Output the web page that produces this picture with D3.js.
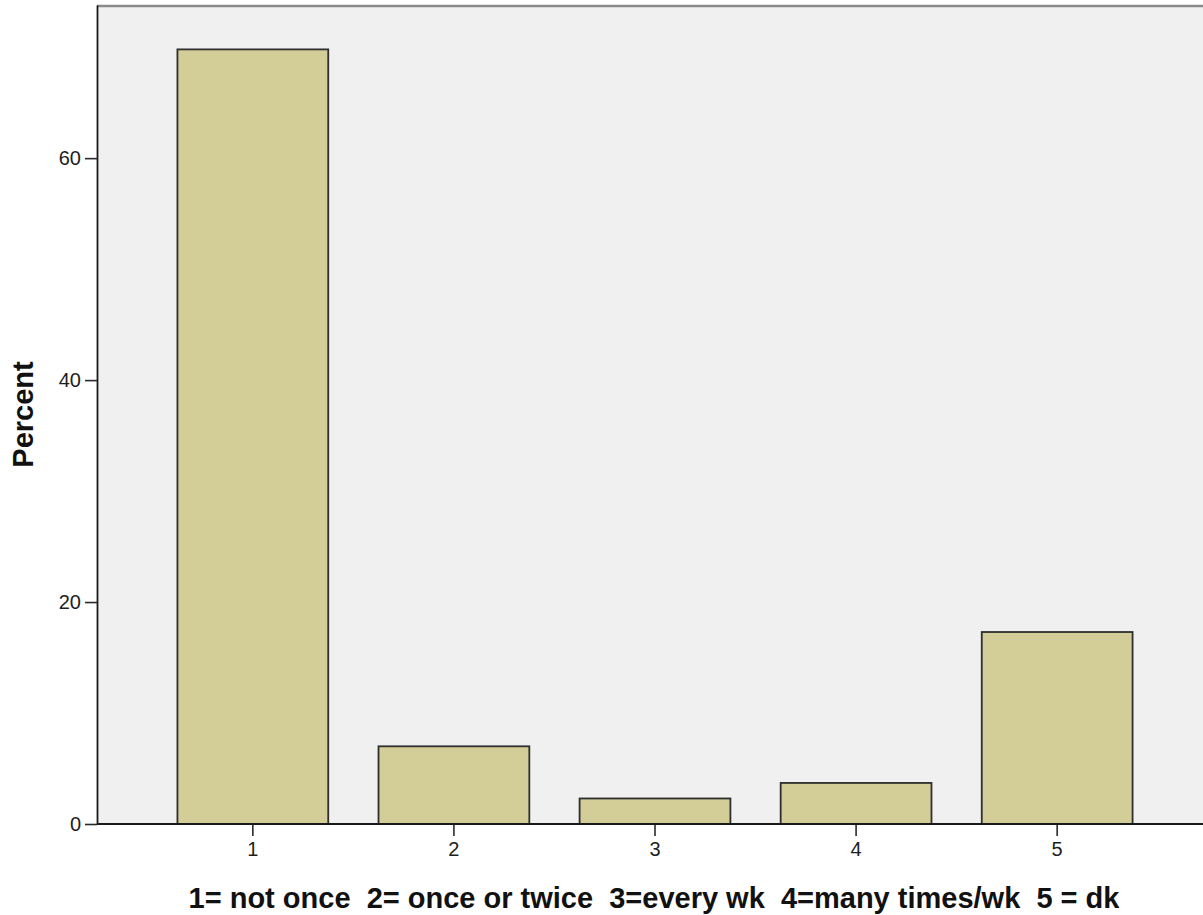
<!DOCTYPE html>
<html>
<head>
<meta charset="utf-8">
<script src="https://cdn.jsdelivr.net/npm/d3@7"></script>
<style>
  html, body { margin: 0; padding: 0; background: #ffffff; }
  svg { display: block; }
  text { font-family: Arial, "Liberation Sans", sans-serif; }
</style>
</head>
<body>
<svg id="chart" width="1203" height="915"></svg>
<script>
// ---- data ----
const categories = ["1", "2", "3", "4", "5"];
const percentValues = [69.8, 7.0, 2.3, 3.7, 17.3];
const yTickValues = [0, 20, 40, 60];
const yAxisTitle = "Percent";
const xAxisTitle = "1= not once  2= once or twice  3=every wk  4=many times/wk  5 = dk";

// ---- layout ----
const W = 1203, H = 915;
const plotLeft = 97, plotRight = 1213, plotTop = 5, plotBottom = 824;

const svg = d3.select("#chart");

const x = d3.scaleBand()
  .domain(categories)
  .range([plotLeft, plotRight])
  .paddingInner(0.25)
  .paddingOuter(0.4);

const y = d3.scaleLinear()
  .domain([0, 73.8])
  .range([plotBottom, plotTop]);

// plot background
svg.append("rect")
  .attr("x", plotLeft)
  .attr("y", plotTop)
  .attr("width", plotRight - plotLeft)
  .attr("height", plotBottom - plotTop)
  .attr("fill", "#f0f0f0");

// top frame line
svg.append("line")
  .attr("x1", plotLeft).attr("x2", W)
  .attr("y1", plotTop + 1).attr("y2", plotTop + 1)
  .attr("stroke", "#8a8a8a")
  .attr("stroke-width", 2.5);

// bars
const data = categories.map((c, i) => ({ c, v: percentValues[i] }));
svg.append("g")
  .selectAll("rect")
  .data(data)
  .join("rect")
  .attr("x", d => x(d.c))
  .attr("y", d => y(d.v))
  .attr("width", x.bandwidth())
  .attr("height", d => y(0) - y(d.v))
  .attr("fill", "#d3ce97")
  .attr("stroke", "#2e2e2e")
  .attr("stroke-width", 1.8);

// y axis
const yAxis = d3.axisLeft(y)
  .tickValues(yTickValues)
  .tickFormat(d3.format("d"))
  .tickSize(12)
  .tickSizeOuter(0)
  .tickPadding(4);
const gy = svg.append("g")
  .attr("transform", `translate(${plotLeft},0)`)
  .call(yAxis);
gy.select(".domain").attr("stroke", "#1a1a1a").attr("stroke-width", 1.8);
gy.selectAll(".tick line").attr("stroke", "#2a2a2a").attr("stroke-width", 1.6);
gy.selectAll(".tick text")
  .attr("font-size", 20)
  .attr("fill", "#1e1e1e")
  .attr("font-family", "Arial, 'Liberation Sans', sans-serif");

// x axis
const xAxis = d3.axisBottom(x)
  .tickSize(12)
  .tickSizeOuter(0)
  .tickPadding(6);
const gx = svg.append("g")
  .attr("transform", `translate(0,${plotBottom})`)
  .call(xAxis);
gx.select(".domain").remove();
gx.append("line")
  .attr("x1", plotLeft).attr("x2", W)
  .attr("y1", 0).attr("y2", 0)
  .attr("stroke", "#1a1a1a")
  .attr("stroke-width", 1.8);
gx.selectAll(".tick line").attr("stroke", "#2a2a2a").attr("stroke-width", 1.6);
gx.selectAll(".tick text")
  .attr("font-size", 20)
  .attr("fill", "#1e1e1e")
  .attr("font-family", "Arial, 'Liberation Sans', sans-serif");

// axis titles
svg.append("text")
  .attr("transform", `translate(33,${(plotTop + plotBottom) / 2}) rotate(-90)`)
  .attr("text-anchor", "middle")
  .attr("font-size", 29)
  .attr("font-weight", "bold")
  .attr("fill", "#111")
  .text(yAxisTitle);

svg.append("text")
  .attr("x", 654)
  .attr("y", 908)
  .attr("text-anchor", "middle")
  .attr("font-size", 29)
  .attr("font-weight", "bold")
  .attr("fill", "#111")
  .style("white-space", "pre")
  .text(xAxisTitle);
</script>
</body>
</html>
